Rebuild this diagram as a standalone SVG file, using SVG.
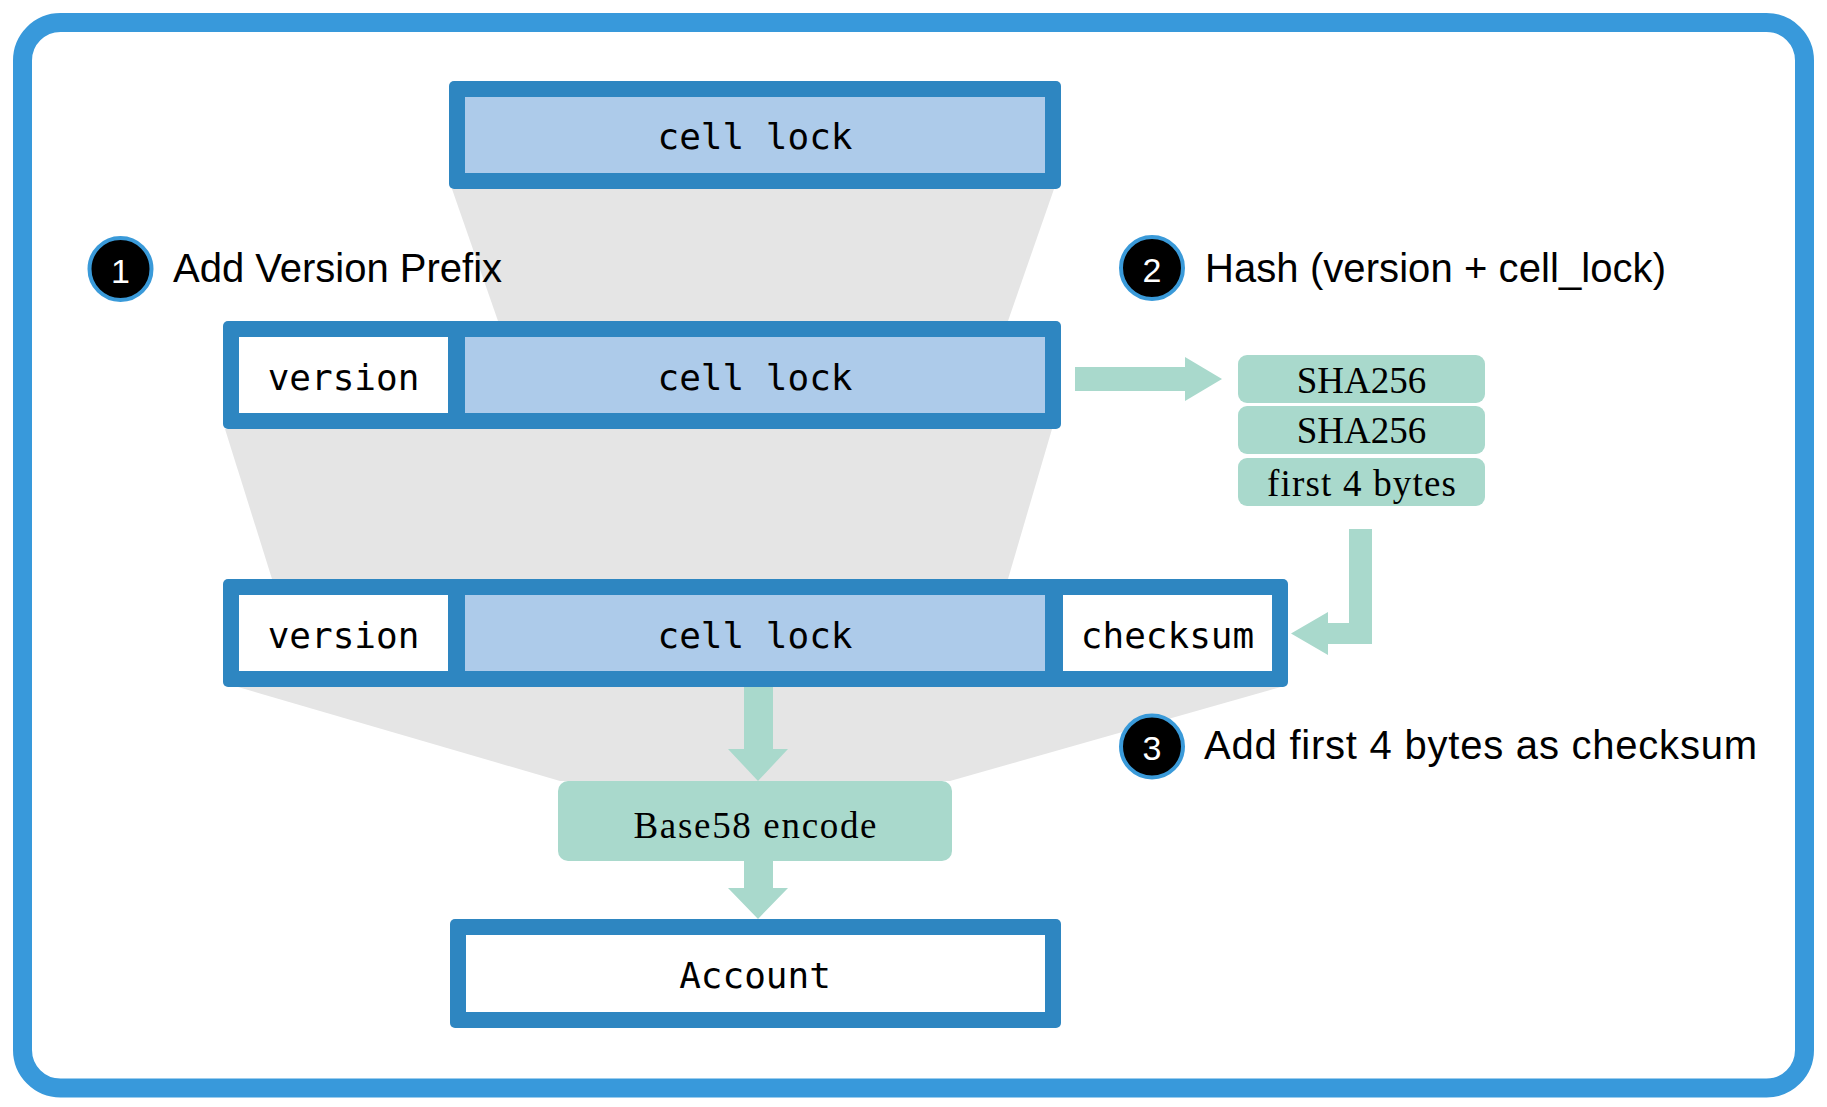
<svg xmlns="http://www.w3.org/2000/svg" width="1827" height="1107" viewBox="0 0 1827 1107">
<style>
.frame{fill:#2E86C1}
.lb{fill:#ADCBEA}
.wh{fill:#FFFFFF}
.grey{fill:#E5E5E5}
.grn{fill:#A9D9CC}
.mono{font-family:"DejaVu Sans Mono","Liberation Mono",monospace;font-size:36px;fill:#000;text-anchor:middle}
.serif{font-family:"Liberation Serif","DejaVu Serif",serif;font-size:37px;fill:#000;text-anchor:middle}
.lbl{font-family:"Liberation Sans",Arial,sans-serif;font-size:40px;fill:#000}
.num{font-family:"Liberation Sans",Arial,sans-serif;font-size:34px;fill:#fff;text-anchor:middle}
.badge{fill:#000;stroke:#3A9AD9;stroke-width:4}
</style>
<rect x="22.5" y="22.5" width="1782" height="1065.5" rx="38" fill="#FFFFFF" stroke="#3899DB" stroke-width="19"/>
<g id="funnels">
<polygon class="grey" points="452,189 1054,189 1008,321 498,321"/>
<polygon class="grey" points="225,429 1052,429 1008,579 272,579"/>
<polygon class="grey" points="238,687 1281,687 950,781 560,781"/>
</g>
<g id="connectors">
<polygon class="grn" points="1075,367 1185,367 1185,357 1222,379 1185,401 1185,391 1075,391"/>
<polygon class="grn" points="1349,529 1372,529 1372,644 1328,644 1328,655 1291,633.5 1328,612 1328,623 1349,623"/>
<polygon class="grn" points="744,687 773,687 773,749 788,749 758,781 728,749 744,749"/>
<polygon class="grn" points="744,861 773,861 773,888 788,888 758,919 728,888 744,888"/>
</g>
<g id="box-celllock">
<rect class="frame" x="449" y="81" width="612" height="108" rx="5"/>
<rect class="lb" x="465" y="97" width="580" height="76"/>
<text class="mono" x="755" y="149">cell lock</text>
</g>
<g id="box-prefixed">
<rect class="frame" x="223" y="321" width="838" height="108" rx="5"/>
<rect class="wh" x="239" y="337" width="209" height="76"/>
<rect class="lb" x="465" y="337" width="580" height="76"/>
<text class="mono" x="343.5" y="390">version</text>
<text class="mono" x="755" y="390">cell lock</text>
</g>
<g id="box-checksummed">
<rect class="frame" x="223" y="579" width="1065" height="108" rx="5"/>
<rect class="wh" x="239" y="595" width="209" height="76"/>
<rect class="lb" x="465" y="595" width="580" height="76"/>
<rect class="wh" x="1063" y="595" width="209" height="76"/>
<text class="mono" x="343.5" y="648">version</text>
<text class="mono" x="755" y="648">cell lock</text>
<text class="mono" x="1167.5" y="648">checksum</text>
</g>
<g id="hash-steps">
<rect class="grn" x="1238" y="355" width="247" height="48" rx="9"/>
<rect class="grn" x="1238" y="406" width="247" height="48" rx="9"/>
<rect class="grn" x="1238" y="458" width="247" height="48" rx="9"/>
<text class="serif" x="1361.5" y="393">SHA256</text>
<text class="serif" x="1361.5" y="443">SHA256</text>
<text class="serif" x="1361.5" y="496" textLength="189" lengthAdjust="spacing">first 4 bytes</text>
</g>
<g id="base58">
<rect class="grn" x="558" y="781" width="394" height="80" rx="10"/>
<text class="serif" x="755" y="838" font-size="38" textLength="243" lengthAdjust="spacing">Base58 encode</text>
</g>
<g id="account">
<rect class="frame" x="450" y="919" width="611" height="109" rx="5"/>
<rect class="wh" x="466" y="935" width="579" height="77"/>
<text class="mono" x="755" y="988">Account</text>
</g>
<g id="step1">
<circle class="badge" cx="120.5" cy="269" r="31"/>
<text class="num" x="120.5" y="283">1</text>
<text class="lbl" x="173" y="282">Add Version Prefix</text>
</g>
<g id="step2">
<circle class="badge" cx="1152" cy="268" r="31"/>
<text class="num" x="1152" y="282">2</text>
<text class="lbl" x="1205" y="282" textLength="461" lengthAdjust="spacing">Hash (version + cell_lock)</text>
</g>
<g id="step3">
<circle class="badge" cx="1152" cy="746.5" r="31"/>
<text class="num" x="1152" y="760">3</text>
<text class="lbl" x="1204" y="759" textLength="553" lengthAdjust="spacing">Add first 4 bytes as checksum</text>
</g>
</svg>
